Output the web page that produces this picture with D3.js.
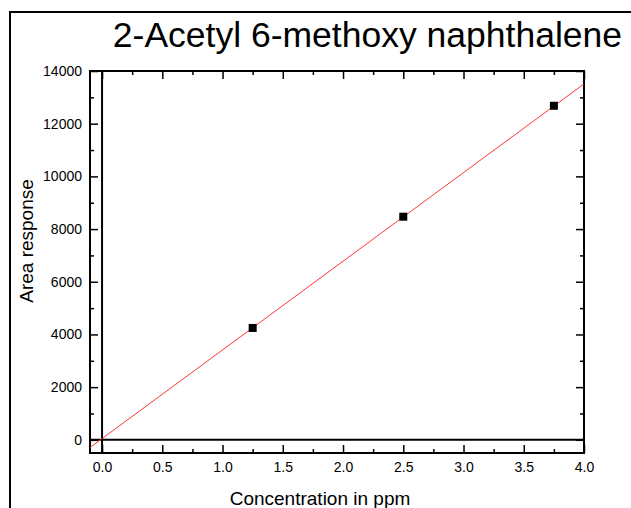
<!DOCTYPE html>
<html>
<head>
<meta charset="utf-8">
<script src="https://cdn.jsdelivr.net/npm/d3@7"></script>
<style>
  body { margin: 0; background: #fff; }
  svg { display: block; font-family: Arial, "Liberation Sans", sans-serif; }
</style>
</head>
<body>
<div id="chart-area"></div>
<script>
// data
const concentration = [1.25, 2.5, 3.75];
const areaResponse = [4246, 8470, 12680];
const fitX = [-0.1, 4.0];
const fitY = [-290, 13510];
const xTicks = [0, 0.5, 1.0, 1.5, 2.0, 2.5, 3.0, 3.5, 4.0];
const yTicks = [0, 2000, 4000, 6000, 8000, 10000, 12000, 14000];

const W = 631, H = 508;
const plot = {left: 90, top: 71, right: 584, bottom: 453};

const svg = d3.select("#chart-area")
    .append("svg")
    .attr("width", W)
    .attr("height", H);

// outer frame (runs off the right and bottom)
svg.append("rect")
    .attr("x", 10).attr("y", 12)
    .attr("width", W + 20).attr("height", H + 20)
    .attr("fill", "none")
    .attr("stroke", "#000")
    .attr("stroke-width", 2);

const xScale = d3.scaleLinear()
    .domain([-0.1, 4.0])
    .range([plot.left, plot.right]);

const yScale = d3.scaleLinear()
    .domain([-500, 14000])
    .range([plot.bottom, plot.top]);

const minorX = d3.range(0, 4.01, 0.25).filter(d => xTicks.indexOf(d) < 0);
const minorY = d3.range(1000, 14000, 2000);

function styleAxis(g) {
    g.select(".domain").remove();
    g.selectAll("line").attr("stroke", "#000").attr("stroke-width", 1.5);
    g.selectAll("text")
        .attr("fill", "#000")
        .style("font-size", "14px");
}

// bottom axis, ticks point inward
svg.append("g")
    .attr("transform", `translate(0, ${plot.bottom})`)
    .call(d3.axisBottom(xScale).tickValues(xTicks).tickFormat(d3.format(".1f"))
        .tickSizeInner(-8).tickSizeOuter(0).tickPadding(9))
    .call(styleAxis);
svg.append("g")
    .attr("transform", `translate(0, ${plot.bottom})`)
    .call(d3.axisBottom(xScale).tickValues(minorX).tickFormat("")
        .tickSizeInner(-4).tickSizeOuter(0))
    .call(styleAxis);

// top axis
svg.append("g")
    .attr("transform", `translate(0, ${plot.top})`)
    .call(d3.axisTop(xScale).tickValues(xTicks).tickFormat("")
        .tickSizeInner(-8).tickSizeOuter(0))
    .call(styleAxis);
svg.append("g")
    .attr("transform", `translate(0, ${plot.top})`)
    .call(d3.axisTop(xScale).tickValues(minorX).tickFormat("")
        .tickSizeInner(-4).tickSizeOuter(0))
    .call(styleAxis);

// left axis
svg.append("g")
    .attr("transform", `translate(${plot.left}, 0)`)
    .call(d3.axisLeft(yScale).tickValues(yTicks).tickFormat(d3.format("d"))
        .tickSizeInner(-8).tickSizeOuter(0).tickPadding(8))
    .call(styleAxis);
svg.append("g")
    .attr("transform", `translate(${plot.left}, 0)`)
    .call(d3.axisLeft(yScale).tickValues(minorY).tickFormat("")
        .tickSizeInner(-4).tickSizeOuter(0))
    .call(styleAxis);

// right axis
svg.append("g")
    .attr("transform", `translate(${plot.right}, 0)`)
    .call(d3.axisRight(yScale).tickValues(yTicks).tickFormat("")
        .tickSizeInner(-8).tickSizeOuter(0))
    .call(styleAxis);
svg.append("g")
    .attr("transform", `translate(${plot.right}, 0)`)
    .call(d3.axisRight(yScale).tickValues(minorY).tickFormat("")
        .tickSizeInner(-4).tickSizeOuter(0))
    .call(styleAxis);

// plot box
svg.append("rect")
    .attr("x", plot.left).attr("y", plot.top)
    .attr("width", plot.right - plot.left)
    .attr("height", plot.bottom - plot.top)
    .attr("fill", "none")
    .attr("stroke", "#000")
    .attr("stroke-width", 2);

// zero lines
svg.append("line")
    .attr("x1", xScale(0)).attr("x2", xScale(0))
    .attr("y1", plot.top).attr("y2", plot.bottom)
    .attr("stroke", "#000").attr("stroke-width", 2);
svg.append("line")
    .attr("x1", plot.left).attr("x2", plot.right)
    .attr("y1", yScale(0)).attr("y2", yScale(0))
    .attr("stroke", "#000").attr("stroke-width", 2);

// fit line
const line = d3.line()
    .x(d => xScale(d[0]))
    .y(d => yScale(d[1]));
svg.append("path")
    .datum(d3.zip(fitX, fitY))
    .attr("d", line)
    .attr("fill", "none")
    .attr("stroke", "#ff2020")
    .attr("stroke-width", 0.9);

// data points
const sz = 8;
svg.selectAll(".pt")
    .data(d3.zip(concentration, areaResponse))
    .enter()
    .append("rect")
    .attr("class", "pt")
    .attr("x", d => xScale(d[0]) - sz / 2)
    .attr("y", d => yScale(d[1]) - sz / 2)
    .attr("width", sz)
    .attr("height", sz)
    .attr("fill", "#000");

// title and axis labels
svg.append("text")
    .attr("x", 622)
    .attr("y", 47)
    .attr("text-anchor", "end")
    .style("font-size", "35.5px")
    .text("2-Acetyl 6-methoxy naphthalene");

svg.append("text")
    .attr("x", 320)
    .attr("y", 505)
    .attr("text-anchor", "middle")
    .style("font-size", "19px")
    .text("Concentration in ppm");

svg.append("text")
    .attr("transform", "translate(33, 241) rotate(-90)")
    .attr("text-anchor", "middle")
    .style("font-size", "19px")
    .text("Area response");
</script>
</body>
</html>
